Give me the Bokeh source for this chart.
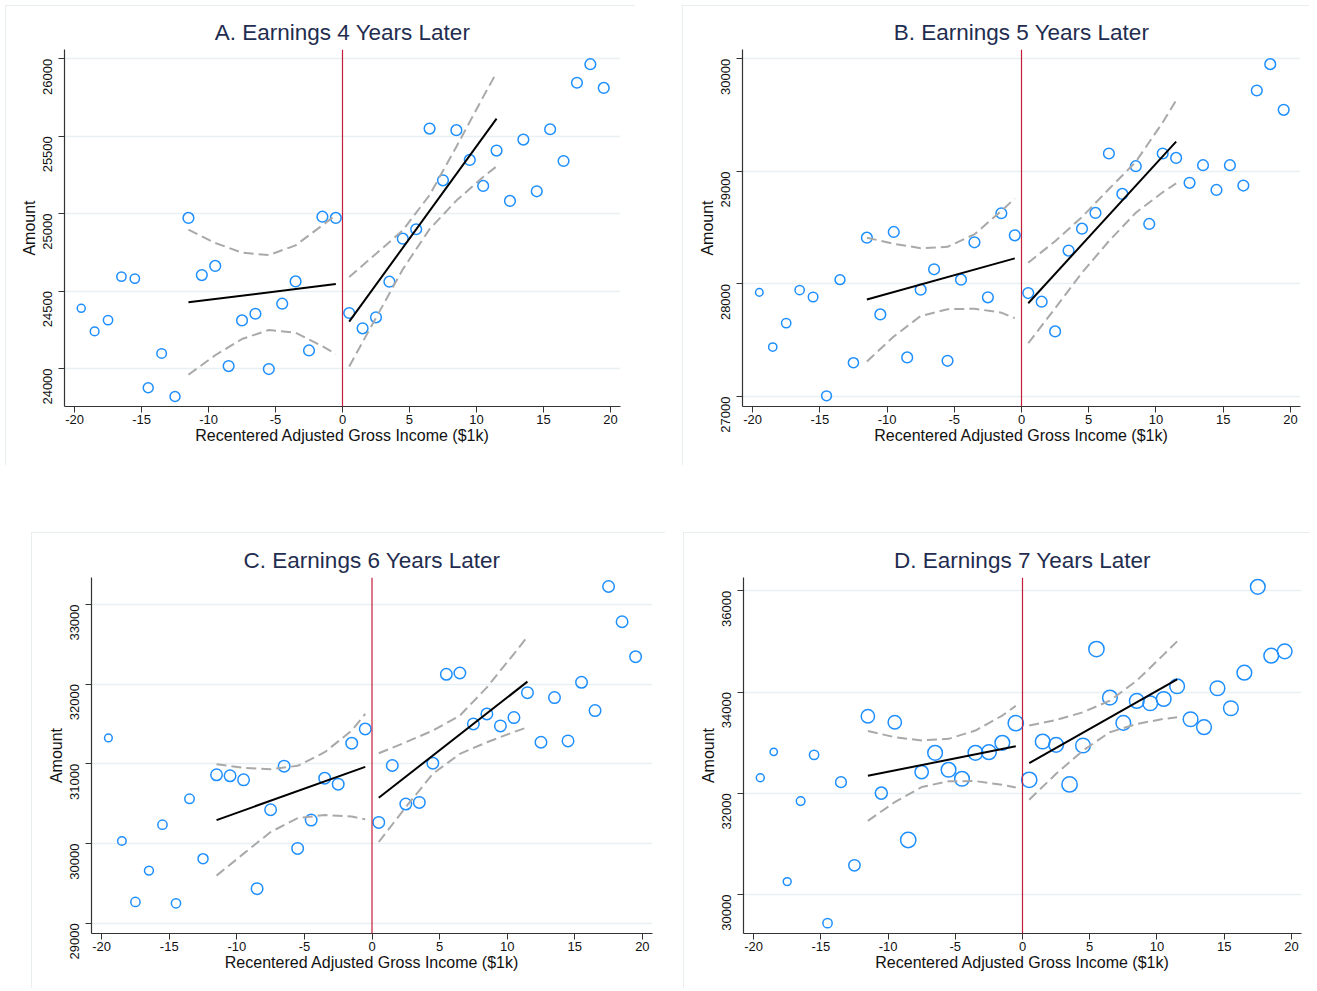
import math
from bokeh.plotting import figure
from bokeh.models import Span
from bokeh.layouts import column, row, Spacer
from bokeh.embed import file_html
from bokeh.resources import INLINE

# recentered AGI bins ($1k)
bins = [-19.5, -18.5, -17.5, -16.5, -15.5, -14.5, -13.5, -12.5, -11.5, -10.5,
        -9.5, -8.5, -7.5, -6.5, -5.5, -4.5, -3.5, -2.5, -1.5, -0.5,
        0.5, 1.5, 2.5, 3.5, 4.5, 5.5, 6.5, 7.5, 8.5, 9.5,
        10.5, 11.5, 12.5, 13.5, 14.5, 15.5, 16.5, 17.5, 18.5, 19.5]

# mean earnings per bin
amount_4 = [24388, 24239, 24312, 24593, 24580, 23875, 24097, 23819, 24972, 24603,
            24662, 24015, 24310, 24353, 23996, 24418, 24562, 24116, 24980, 24972,
            24358, 24259, 24330, 24560, 24838, 24899, 25549, 25215, 25539, 25347,
            25179, 25407, 25082, 25478, 25144, 25545, 25340, 25845, 25965, 25812]
amount_5 = [27925, 27439, 27652, 27946, 27884, 27006, 28038, 27300, 28411, 27729,
            28462, 27347, 27949, 28130, 27317, 28038, 28370, 27881, 28628, 28432,
            27919, 27842, 27578, 28296, 28491, 28631, 29159, 28800, 29046, 28533,
            29159, 29120, 28898, 29055, 28835, 29055, 28874, 29719, 29953, 29547]
amount_6 = [31325, 30031, 29267, 29660, 30236, 29250, 30561, 29810, 30862, 30850,
            30799, 29434, 30424, 30971, 29939, 30294, 30820, 30745, 31259, 31438,
            30265, 30979, 30495, 30516, 31008, 32123, 32140, 31501, 31626, 31476,
            31580, 31893, 31271, 31831, 31288, 32023, 31668, 33225, 32783, 32344]
amount_7 = [32307, 32819, 30256, 31847, 32760, 29435, 32221, 30578, 33523, 32004,
            33404, 31078, 32419, 32800, 32465, 32287, 32800, 32813, 32997, 33385,
            32267, 33023, 32957, 32175, 32944, 34850, 33891, 33391, 33825, 33779,
            33864, 34114, 33463, 33306, 34075, 33680, 34383, 36079, 34719, 34804]

# relative bin weights (marker area)
weight_4 = [0.56, 0.66, 0.76, 0.76, 0.76, 0.87, 0.79, 0.87, 1, 1,
            1, 1, 1, 1, 1, 1, 1, 1, 1, 1,
            1, 1, 1, 1, 1, 1, 1, 1, 1, 1,
            1, 1, 1, 1, 1, 1, 1, 1, 1, 1]
weight_5 = [0.5, 0.6, 0.75, 0.75, 0.8, 0.85, 0.85, 0.9, 1, 1,
            1, 1, 1, 1, 1, 1, 1, 1, 1, 1,
            1, 1, 1, 1, 1, 1, 1, 1, 1, 1,
            1, 1, 1, 1, 1, 1, 1, 1, 1, 1]
weight_6 = [0.45, 0.55, 0.65, 0.6, 0.65, 0.65, 0.68, 0.76, 1, 1,
            1, 1, 1, 1, 1, 1, 1, 1, 1, 1,
            1, 1, 1, 1, 1, 1, 1, 1, 1, 1,
            1, 1, 1, 1, 1, 1, 1, 1, 1, 1]
weight_7 = [0.27, 0.23, 0.27, 0.32, 0.37, 0.37, 0.49, 0.55, 0.76, 0.62,
            0.76, 1.0, 0.76, 0.92, 0.92, 0.92, 0.92, 0.92, 0.92, 1.0,
            1.0, 0.92, 0.92, 1.0, 0.92, 1.0, 0.92, 0.92, 0.92, 0.92,
            0.92, 0.92, 0.92, 0.92, 0.92, 0.92, 0.92, 0.92, 0.92, 0.92]

# linear fits either side of the cutoff
fit_left_x = [-11.5, -0.5]
fit_right_x = [0.5, 11.5]
fit_left_4 = [24427, 24545]
fit_right_4 = [24302, 25614]
fit_left_5 = [27861, 28227]
fit_right_5 = [27828, 29265]
fit_left_6 = [30294, 30962]
fit_right_6 = [30574, 32031]
fit_left_7 = [32345, 32930]
fit_right_7 = [32596, 34252]

# 95% confidence bands
ci_left_x = [-11.5, -9.5, -7.5, -5.5, -3.5, -1.5, -0.5]
ci_right_x = [0.5, 2.5, 4.5, 6.5, 8.5, 10.5, 11.5]
ci_left_hi_4 = [24896, 24810, 24748, 24732, 24795, 24925, 24990]
ci_left_lo_4 = [23959, 24085, 24190, 24248, 24230, 24143, 24093]
ci_right_hi_4 = [24591, 24740, 24892, 25120, 25432, 25754, 25911]
ci_right_lo_4 = [24013, 24327, 24640, 24900, 25084, 25237, 25305]
ci_left_hi_5 = [28411, 28357, 28318, 28330, 28441, 28649, 28759]
ci_left_lo_5 = [27311, 27533, 27715, 27775, 27780, 27745, 27696]
ci_right_hi_5 = [28188, 28380, 28595, 28843, 29085, 29434, 29632]
ci_right_lo_5 = [27473, 27784, 28100, 28381, 28633, 28814, 28893]
ci_left_hi_6 = [30996, 30950, 30933, 30975, 31146, 31417, 31626]
ci_left_lo_6 = [29597, 29873, 30144, 30320, 30357, 30340, 30303]
ci_right_hi_6 = [31133, 31271, 31417, 31605, 31960, 32380, 32595]
ci_right_lo_6 = [30019, 30457, 30875, 31125, 31271, 31400, 31459]
ci_left_hi_7 = [33230, 33109, 33045, 33076, 33240, 33536, 33726]
ci_left_lo_7 = [31455, 31827, 32123, 32240, 32241, 32169, 32115]
ci_right_hi_7 = [33339, 33450, 33601, 33831, 34226, 34740, 35001]
ci_right_lo_7 = [31873, 32386, 32846, 33207, 33371, 33470, 33503]

x_ticks = [-20, -15, -10, -5, 0, 5, 10, 15, 20]

FONT = "Liberation Sans"
BLUE = "#1e8fff"
GREY = "#a9a9a9"


def panel(title, amount, weight, dmax, fl, fr, lhi, llo, rhi, rlo,
          y_range, y_ticks, width, height, left, right, top, bottom):
    p = figure(width=width, height=height, x_range=(-20.75, 20.75), y_range=y_range,
               output_backend="svg", toolbar_location=None,
               min_border_left=left, min_border_right=right,
               min_border_top=top, min_border_bottom=bottom,
               title=title)
    p.styles = {"outline": "1px solid #e2e9ed", "outline-offset": "-1px"}
    p.outline_line_color = None
    p.title.align = "center"
    p.title.text_font = FONT
    p.title.text_font_size = "22.5px"
    p.title.text_font_style = "normal"
    p.title.text_color = "#1f2d50"
    p.title.standoff = 9

    p.xgrid.grid_line_color = None
    p.ygrid.grid_line_color = "#e8f0f2"
    p.ygrid.grid_line_width = 1.5

    p.xaxis.ticker = x_ticks
    p.xaxis.major_label_overrides = {t: str(t) for t in x_ticks}
    p.yaxis.ticker = y_ticks
    p.yaxis.major_label_orientation = math.pi / 2
    for ax in (p.xaxis, p.yaxis):
        ax.axis_line_color = "#333333"
        ax.axis_line_width = 1.2
        ax.major_tick_line_color = "#333333"
        ax.major_tick_out = 6
        ax.major_tick_in = 0
        ax.minor_tick_line_color = None
        ax.major_label_text_font = FONT
        ax.major_label_text_font_size = "13px"
        ax.major_label_text_color = "#111111"
        ax.axis_label_text_font = FONT
        ax.axis_label_text_font_size = "16px"
        ax.axis_label_text_font_style = "normal"
        ax.axis_label_text_color = "#111111"
    p.xaxis.major_label_standoff = 2
    p.xaxis.axis_label_standoff = 0
    p.yaxis.major_label_standoff = 11
    p.yaxis.axis_label_standoff = -2
    p.xaxis.axis_label = "Recentered Adjusted Gross Income ($1k)"
    p.yaxis.axis_label = "Amount"

    sizes = [dmax * math.sqrt(w) for w in weight]
    p.scatter(bins, amount, size=sizes, marker="circle", fill_color=None,
              line_color=BLUE, line_width=1.5)

    p.line(ci_left_x, lhi, line_color=GREY, line_width=2, line_dash="10 5")
    p.line(ci_left_x, llo, line_color=GREY, line_width=2, line_dash="10 5")
    p.line(ci_right_x, rhi, line_color=GREY, line_width=2, line_dash="10 5")
    p.line(ci_right_x, rlo, line_color=GREY, line_width=2, line_dash="10 5")
    p.line(fit_left_x, fl, line_color="black", line_width=2)
    p.line(fit_right_x, fr, line_color="black", line_width=2)

    p.add_layout(Span(location=0, dimension="height", line_color="#c41e3a",
                      line_width=1.2))
    return p


pa = panel("A. Earnings 4 Years Later", amount_4, weight_4, 10.7,
           fit_left_4, fit_right_4, ci_left_hi_4, ci_left_lo_4, ci_right_hi_4, ci_right_lo_4,
           (23754, 26060), [24000, 24500, 25000, 25500, 26000],
           630, 460, 59, 15, 44, 59)
pb = panel("B. Earnings 5 Years Later", amount_5, weight_5, 10.7,
           fit_left_5, fit_right_5, ci_left_hi_5, ci_left_lo_5, ci_right_hi_5, ci_right_lo_5,
           (26911, 30083), [27000, 28000, 29000, 30000],
           627, 460, 60, 9, 44, 59)
pc = panel("C. Earnings 6 Years Later", amount_6, weight_6, 11.5,
           fit_left_6, fit_right_6, ci_left_hi_6, ci_left_lo_6, ci_right_hi_6, ci_right_lo_6,
           (28871, 33338), [29000, 30000, 31000, 32000, 33000],
           634, 456, 60, 13, 45, 55)
pd_ = panel("D. Earnings 7 Years Later", amount_7, weight_7, 15.3,
            fit_left_7, fit_right_7, ci_left_hi_7, ci_left_lo_7, ci_right_hi_7, ci_right_lo_7,
            (29231, 36263), [30000, 32000, 34000, 36000],
            627, 456, 60, 9, 45, 55)

layout = column(
    Spacer(width=10, height=5),
    row(Spacer(width=5, height=460), pa, Spacer(width=47, height=460), pb),
    Spacer(width=10, height=67),
    row(Spacer(width=31, height=456), pc, Spacer(width=18, height=456), pd_),
)

open("out.html", "w").write(file_html(layout, INLINE))
